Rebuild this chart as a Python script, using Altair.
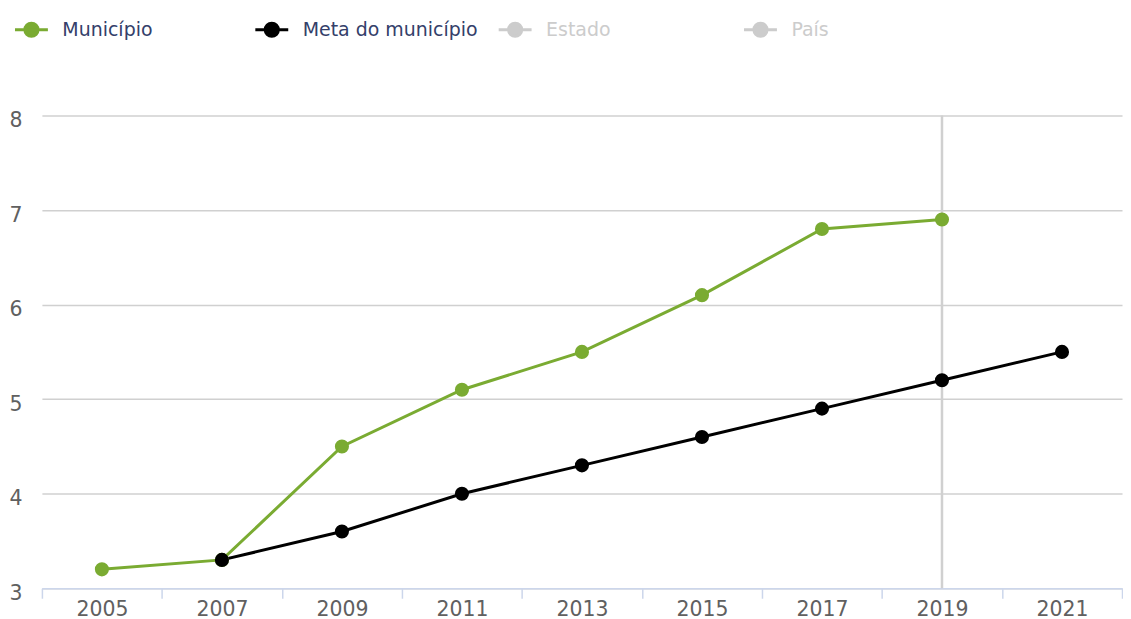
import altair as alt
import pandas as pd

years = ["2005", "2007", "2009", "2011", "2013", "2015", "2017", "2019", "2021"]
municipio = [3.2, 3.3, 4.5, 5.1, 5.5, 6.1, 6.8, 6.9, None]
meta = [None, 3.3, 3.6, 4.0, 4.3, 4.6, 4.9, 5.2, 5.5]
series_main = ["Município", "Meta do município"]
series_other = ["Estado", "País"]
highlight_year = ["2019"]
y_ticks = [3, 4, 5, 6, 7, 8]

rows = []
for name, vals in zip(series_main, [municipio, meta]):
    for yr, v in zip(years, vals):
        if v is not None:
            rows.append({"Ano": yr, "Valor": v, "Série": name})
df = pd.DataFrame(rows)
df_hl = pd.DataFrame({"Ano": highlight_year})
df_other = pd.DataFrame({"Ano": [years[0]] * 2, "Valor": [None, None], "Série": series_other})

FONT = "DejaVu Sans"
GREEN = "#7aab32"
BLACK = "#000000"
SYMBOL = "M-1.5,0H1.5M-0.6,0A0.6,0.6,0,1,1,0.6,0A0.6,0.6,0,1,1,-0.6,0Z"

x_enc = alt.X(
    "Ano:N",
    sort=years,
    scale=alt.Scale(domain=years, paddingInner=0, paddingOuter=0),
    axis=alt.Axis(
        title=None, labelAngle=0, grid=False, tickBand="extent",
        domainColor="#ccd6eb", tickColor="#ccd6eb", tickSize=10,
        domainWidth=1.5, tickWidth=1.5, labelPadding=1,
        labelColor="#606060", labelFont=FONT, labelFontSize=20.5,
    ),
)
y_enc = alt.Y(
    "Valor:Q",
    scale=alt.Scale(domain=[3, 8], nice=False, zero=False),
    axis=alt.Axis(
        title=None, values=y_ticks, domain=False, ticks=False,
        gridColor="#d0d0d0", gridWidth=1.5, labelPadding=20, labelOffset=5,
        labelColor="#606060", labelFont=FONT, labelFontSize=20.5,
        minExtent=32, maxExtent=32,
    ),
)

legend_main = alt.Legend(
    title=None, orient="none", legendX=-23, legendY=-99, direction="horizontal",
    columns=2, columnPadding=97, symbolType=SYMBOL, symbolSize=484,
    symbolStrokeWidth=3, labelOffset=18.5, labelLimit=400,
    labelFont=FONT, labelFontSize=19, labelColor="#34406a",
)
legend_other = alt.Legend(
    title=None, orient="none", legendX=462, legendY=-99, direction="horizontal",
    columns=2, columnPadding=127, symbolType=SYMBOL, symbolSize=484,
    symbolStrokeWidth=3, symbolFillColor="#cccccc", labelOffset=18.5, labelLimit=400,
    labelFont=FONT, labelFontSize=19, labelColor="#cccccc",
)

color_main = alt.Color(
    "Série:N",
    scale=alt.Scale(domain=series_main, range=[GREEN, BLACK]),
    legend=legend_main,
)

rule = alt.Chart(df_hl).mark_rule(color="#d0d0d0", strokeWidth=2.5).encode(x=x_enc)
lines = alt.Chart(df).mark_line(strokeWidth=3).encode(x=x_enc, y=y_enc, color=color_main)
points = alt.Chart(df).mark_point(filled=True, size=200, opacity=1).encode(
    x=x_enc, y=y_enc, color=color_main
)
main = alt.layer(rule, lines, points)

other = alt.Chart(df_other).mark_line(strokeWidth=3).encode(
    x=x_enc, y=y_enc,
    color=alt.Color(
        "Série:N",
        scale=alt.Scale(domain=series_other, range=["#cccccc", "#cccccc"]),
        legend=legend_other,
    ),
)

chart = (
    alt.layer(main, other)
    .resolve_scale(color="independent")
    .properties(
        width=1083, height=474,
        padding={"left": 0, "top": 8, "right": 0, "bottom": 0},
    )
    .configure_view(stroke=None)
)

chart.save("out.html", embed_options={"renderer": "svg", "actions": False})
